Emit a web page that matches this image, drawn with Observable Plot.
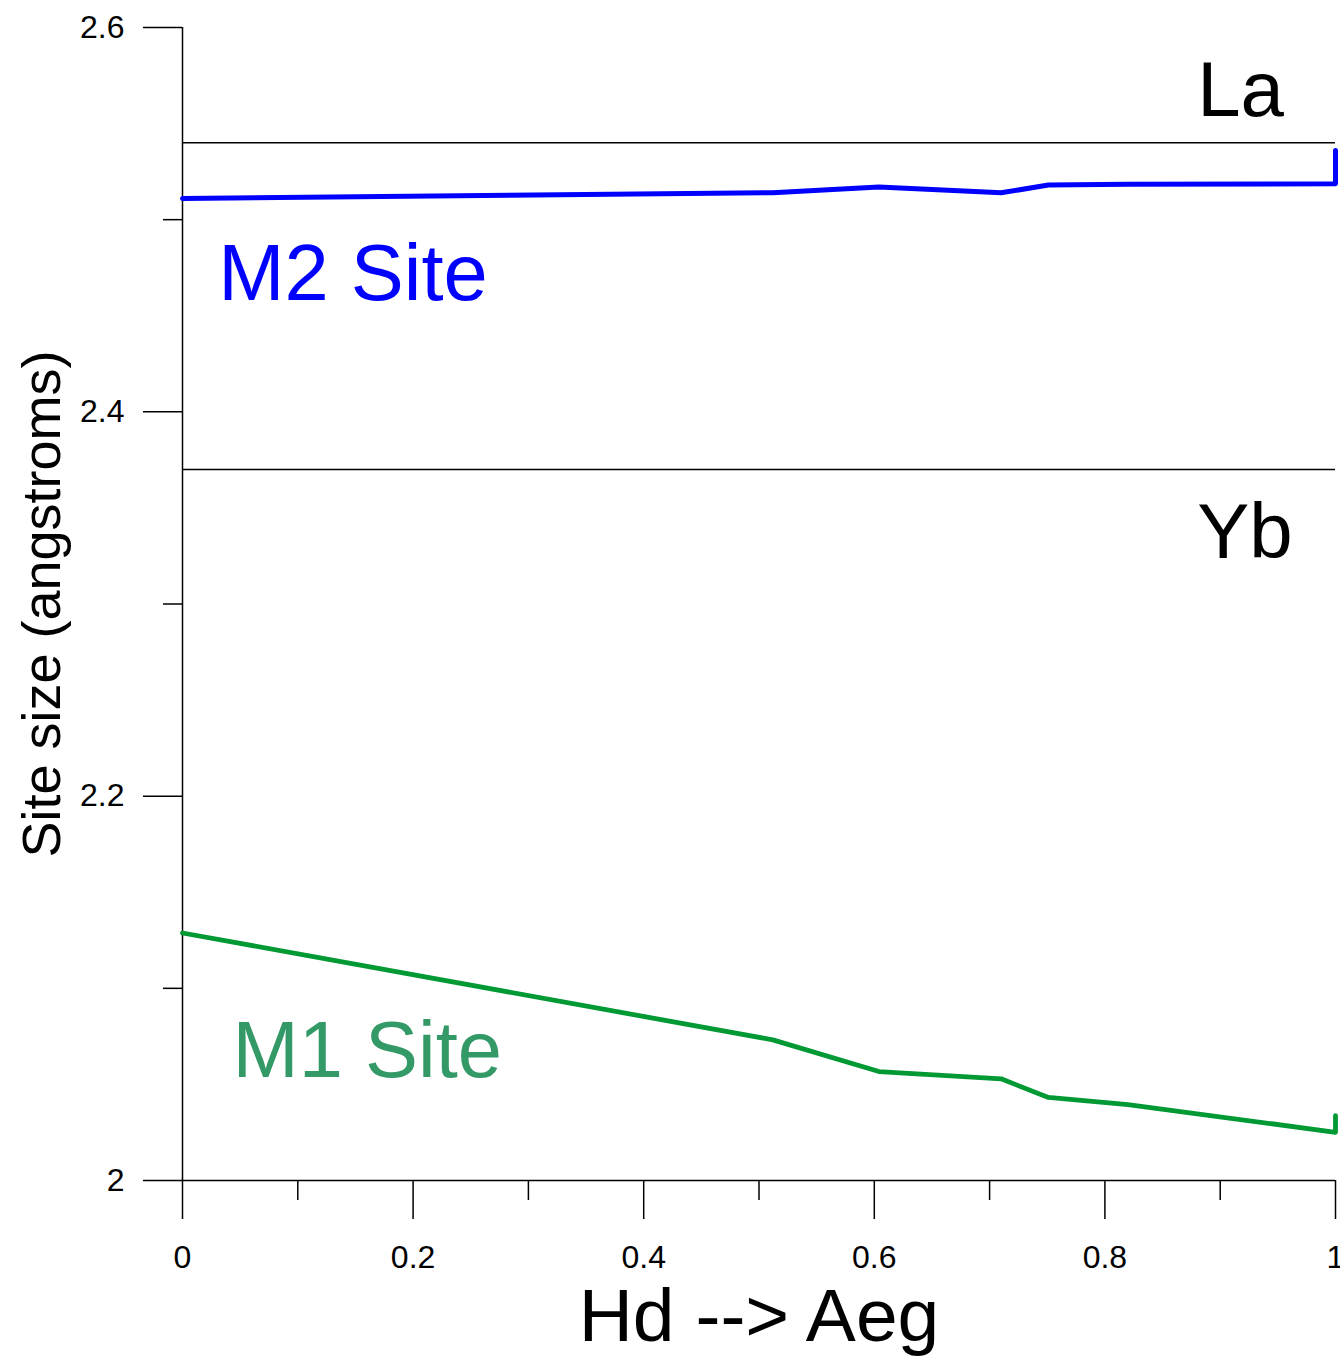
<!DOCTYPE html>
<html><head><meta charset="utf-8">
<script src="https://cdn.jsdelivr.net/npm/d3@7"></script>
<script src="https://cdn.jsdelivr.net/npm/@observablehq/plot@0.6"></script>
<style>body{margin:0;background:#fff}#chart svg{display:block}</style>
</head><body><div id="chart"></div>
<script>
// ---- data ----
const composition = [0, 0.512, 0.604, 0.71, 0.751, 0.82, 1, 1];
const m2Size = [2.511, 2.514, 2.517, 2.514, 2.518, 2.5184, 2.5187, 2.536];
const m1Size = [2.1288, 2.0732, 2.0567, 2.0529, 2.0432, 2.0395, 2.0251, 2.0338];
const ionNames = ["La", "Yb"];
const ionSizes = [2.54, 2.37];
const siteNames = ["M2 Site", "M1 Site"];
const yMajorTicks = [2, 2.2, 2.4, 2.6];
const yMinorTicks = [2.1, 2.3, 2.5];
const xMajorTicks = [0, 0.2, 0.4, 0.6, 0.8, 1];
const xMinorTicks = [0.1, 0.3, 0.5, 0.7, 0.9];
const xTitle = "Hd --> Aeg";
const yTitle = "Site size (angstroms)";

const m2 = composition.map((x, i) => ({x, y: m2Size[i]}));
const m1 = composition.map((x, i) => ({x, y: m1Size[i]}));

// annotation anchors (data space)
const ionLabelX = [0.88, 0.88];
const ionLabelY = [2.554, 2.3237];
const siteLabelX = [0.031, 0.0434];
const siteLabelY = [2.458, 2.054];
const siteColors = ["#0000ff", "#339966"];

const chart = Plot.plot({
  width: 1340,
  height: 1357,
  marginLeft: 182,
  marginRight: 5,
  marginTop: 27,
  marginBottom: 177,
  style: {fontFamily: "'Liberation Sans', Arial, sans-serif", color: "#000", background: "#fff"},
  x: {domain: [0, 1]},
  y: {domain: [2, 2.6]},
  marks: [
    Plot.axisY({ticks: yMajorTicks, tickSize: 39, tickPadding: 19, fontSize: 32, strokeWidth: 1.5, tickFormat: d => String(d), label: null}),
    Plot.axisY({ticks: yMinorTicks, tickSize: 19, strokeWidth: 1.5, tickFormat: () => "", label: null}),
    Plot.axisX({ticks: xMajorTicks, tickSize: 39, tickPadding: 26, fontSize: 32, strokeWidth: 1.5, tickFormat: d => String(d), label: null}),
    Plot.axisX({ticks: xMinorTicks, tickSize: 20, strokeWidth: 1.5, tickFormat: () => "", label: null}),
    Plot.ruleX([0], {stroke: "#000", strokeWidth: 1.5}),
    Plot.ruleY([2], {stroke: "#000", strokeWidth: 1.5}),
    Plot.ruleY(ionSizes, {stroke: "#000", strokeWidth: 1.5}),
    Plot.line(m2, {x: "x", y: "y", stroke: "#0000ff", strokeWidth: 5, strokeLinecap: "round", strokeLinejoin: "round"}),
    Plot.line(m1, {x: "x", y: "y", stroke: "#009933", strokeWidth: 4.8, strokeLinecap: "round", strokeLinejoin: "round"}),
    Plot.text(ionNames, {x: ionLabelX, y: ionLabelY, text: d => d, textAnchor: "start", lineAnchor: "bottom", fontSize: 78, fill: "#000"}),
    Plot.text(siteNames, {x: siteLabelX, y: siteLabelY, text: d => d, textAnchor: "start", lineAnchor: "bottom", fontSize: 79.5, fill: siteColors}),
    Plot.text([xTitle], {frameAnchor: "bottom", dy: 160, textAnchor: "middle", lineAnchor: "bottom", fontSize: 75, fill: "#000"}),
    Plot.text([yTitle], {frameAnchor: "left", dx: -123, rotate: -90, textAnchor: "middle", lineAnchor: "bottom", fontSize: 54, fill: "#000"})
  ]
});
document.getElementById("chart").appendChild(chart);
</script>
</body></html>
